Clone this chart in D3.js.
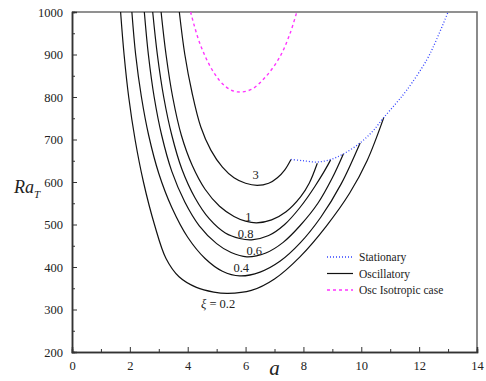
<!DOCTYPE html>
<html><head><meta charset="utf-8">
<script src="https://cdn.jsdelivr.net/npm/d3@7"></script>
<style>
html,body{margin:0;padding:0;background:#fff;}
svg{display:block;}
text{font-family:"Liberation Serif","Times New Roman",serif;fill:#222;}
</style></head>
<body>
<svg id="chart" width="486" height="381"></svg>
<script>
// ---- data ----
const xTicks = [0, 2, 4, 6, 8, 10, 12, 14];
const yTicks = [200, 300, 400, 500, 600, 700, 800, 900, 1000];
const xiLabels = ["0.2", "0.4", "0.6", "0.8", "1", "3"];
const labelA  = [5.05, 5.85, 6.3, 6.0, 6.1, 6.35];
const labelRa = [304, 268, 251, 234, 217, 175]; // pixel rows of labels

const osc02 = [[1.68,1000],[1.80,900],[1.96,800],[2.18,700],[2.47,600],[2.85,500],[3.25,420],[3.7,377],[4.3,352],[4.9,341],[5.39,338],[6.2,345],[7.0,372],[7.88,424],[8.8,497],[9.6,574],[10.2,650],[10.78,752]];
const osc04 = [[2.07,1000],[2.2,900],[2.4,800],[2.65,710],[3.0,620],[3.45,540],[4.0,470],[4.6,420],[5.2,390],[5.8,379],[6.5,388],[7.2,414],[7.88,456],[8.6,517],[9.3,595],[9.96,692]];
const osc06 = [[2.50,1000],[2.64,900],[2.84,800],[3.1,710],[3.45,625],[3.9,553],[4.4,497],[5.0,455],[5.5,434],[6.04,424],[6.7,433],[7.3,458],[7.88,497],[8.5,550],[9.0,610],[9.38,666]];
const osc08 = [[2.79,1000],[2.95,900],[3.17,800],[3.45,710],[3.8,630],[4.25,563],[4.75,513],[5.3,480],[5.8,467],[6.21,464],[6.8,474],[7.35,500],[7.88,540],[8.4,590],[8.94,652]];
const osc1  = [[3.08,1000],[3.25,900],[3.48,800],[3.78,710],[4.15,640],[4.6,583],[5.1,543],[5.6,519],[6.0,508],[6.38,504],[6.9,511],[7.4,530],[7.9,565],[8.2,597],[8.48,644]];
const osc3  = [[3.71,1000],[3.90,900],[4.15,810],[4.45,730],[4.8,675],[5.2,635],[5.6,610],[6.0,597],[6.4,592],[6.8,597],[7.1,610],[7.35,628],[7.57,653]];
const oscSeries = [osc02, osc04, osc06, osc08, osc1, osc3];

const stationary = [[7.57,653],[8.0,650],[8.48,647],[8.94,653],[9.38,666],[9.96,692],[10.4,720],[10.78,752],[11.2,785],[11.57,816],[12.26,887],[12.6,935],[13.0,1000]];
const isotropic = [[4.1,1000],[4.42,926],[4.88,860],[5.3,825],[5.71,812],[6.2,818],[6.7,848],[7.19,895],[7.54,950],[7.77,1000]];

const legendItems = ["Stationary", "Oscillatory", "Osc Isotropic case"];

// ---- drawing ----
const svg = d3.select("#chart");
const L = 72, R = 477, T = 12, B = 352;
const x = d3.scaleLinear().domain([0, 14]).range([L, R]);
const y = d3.scaleLinear().domain([200, 1000]).range([B, T]);

const line = d3.line().x(d => x(d[0])).y(d => y(d[1])).curve(d3.curveCatmullRom.alpha(0.5));

// frame (top, right)
svg.append("path").attr("d", `M${L},${T}H${R}V${B}`).attr("fill","none").attr("stroke","#6e6e6e").attr("stroke-width",1.6);

// curves
const g = svg.append("g");
oscSeries.forEach(s => {
  g.append("path").attr("d", line(s)).attr("fill","none").attr("stroke","#111").attr("stroke-width",1.2);
});
g.append("path").attr("d", line(isotropic)).attr("fill","none").attr("stroke","#ff33ff").attr("stroke-width",1.4).attr("stroke-dasharray","3,3");
g.append("path").attr("d", line(stationary)).attr("fill","none").attr("stroke","#3344ff").attr("stroke-width",1.3).attr("stroke-dasharray","1,2");

// axes
const xAxis = d3.axisBottom(x).tickValues(xTicks).tickSize(-5).tickPadding(9).tickFormat(d3.format("d"));
const xMinor = d3.axisBottom(x).tickValues(d3.range(1, 14, 2)).tickSize(-3).tickFormat("");
const yAxis = d3.axisLeft(y).tickValues(yTicks).tickSize(-5).tickPadding(9).tickFormat(d3.format("d"));
const yMinor = d3.axisLeft(y).tickValues(d3.range(250, 1000, 100)).tickSize(-3).tickFormat("");

svg.append("g").attr("transform", `translate(0,${B})`).call(xAxis);
svg.append("g").attr("transform", `translate(0,${B})`).call(xMinor);
svg.append("g").attr("transform", `translate(${L},0)`).call(yAxis);
svg.append("g").attr("transform", `translate(${L},0)`).call(yMinor);

svg.selectAll("g").attr("font-family", "Liberation Serif, serif");
svg.selectAll(".domain").attr("stroke","#333").attr("stroke-width",1.5);
svg.selectAll(".tick line").attr("stroke","#333").attr("stroke-width",1);
svg.selectAll(".tick text").style("font-family","'Liberation Serif',serif").style("font-size","12.5px").attr("fill","#222");

// axis titles
const ylab = svg.append("text").attr("x", 14).attr("y", 193).style("font-size","18px").style("font-style","italic");
ylab.append("tspan").text("Ra");
ylab.append("tspan").attr("dy", 5).style("font-size","11px").text("T");
svg.append("text").attr("x", x(7)).attr("y", 375).attr("text-anchor","middle").style("font-size","21px").style("font-style","italic").text("a");

// curve labels
xiLabels.forEach((t, i) => {
  const tx = svg.append("text").attr("x", x(labelA[i])).attr("y", labelRa[i] + 4).attr("text-anchor","middle").style("font-size","12.5px");
  if (i === 0) {
    tx.append("tspan").style("font-style","italic").text("\u03BE");
    tx.append("tspan").text(" = " + t);
  } else {
    tx.text(t);
  }
});

// legend
const lg = svg.append("g");
const lStyles = [["#3344ff","1,2",1.3],["#111",null,1.2],["#ff33ff","3,3",1.4]];
legendItems.forEach((t, i) => {
  const yy = 257 + i * 16.5;
  lg.append("line").attr("x1", 327).attr("x2", 353).attr("y1", yy).attr("y2", yy)
    .attr("stroke", lStyles[i][0]).attr("stroke-width", lStyles[i][2]).attr("stroke-dasharray", lStyles[i][1]);
  lg.append("text").attr("x", 359).attr("y", yy + 4).style("font-size","11.5px").text(t);
});
</script>
</body></html>
